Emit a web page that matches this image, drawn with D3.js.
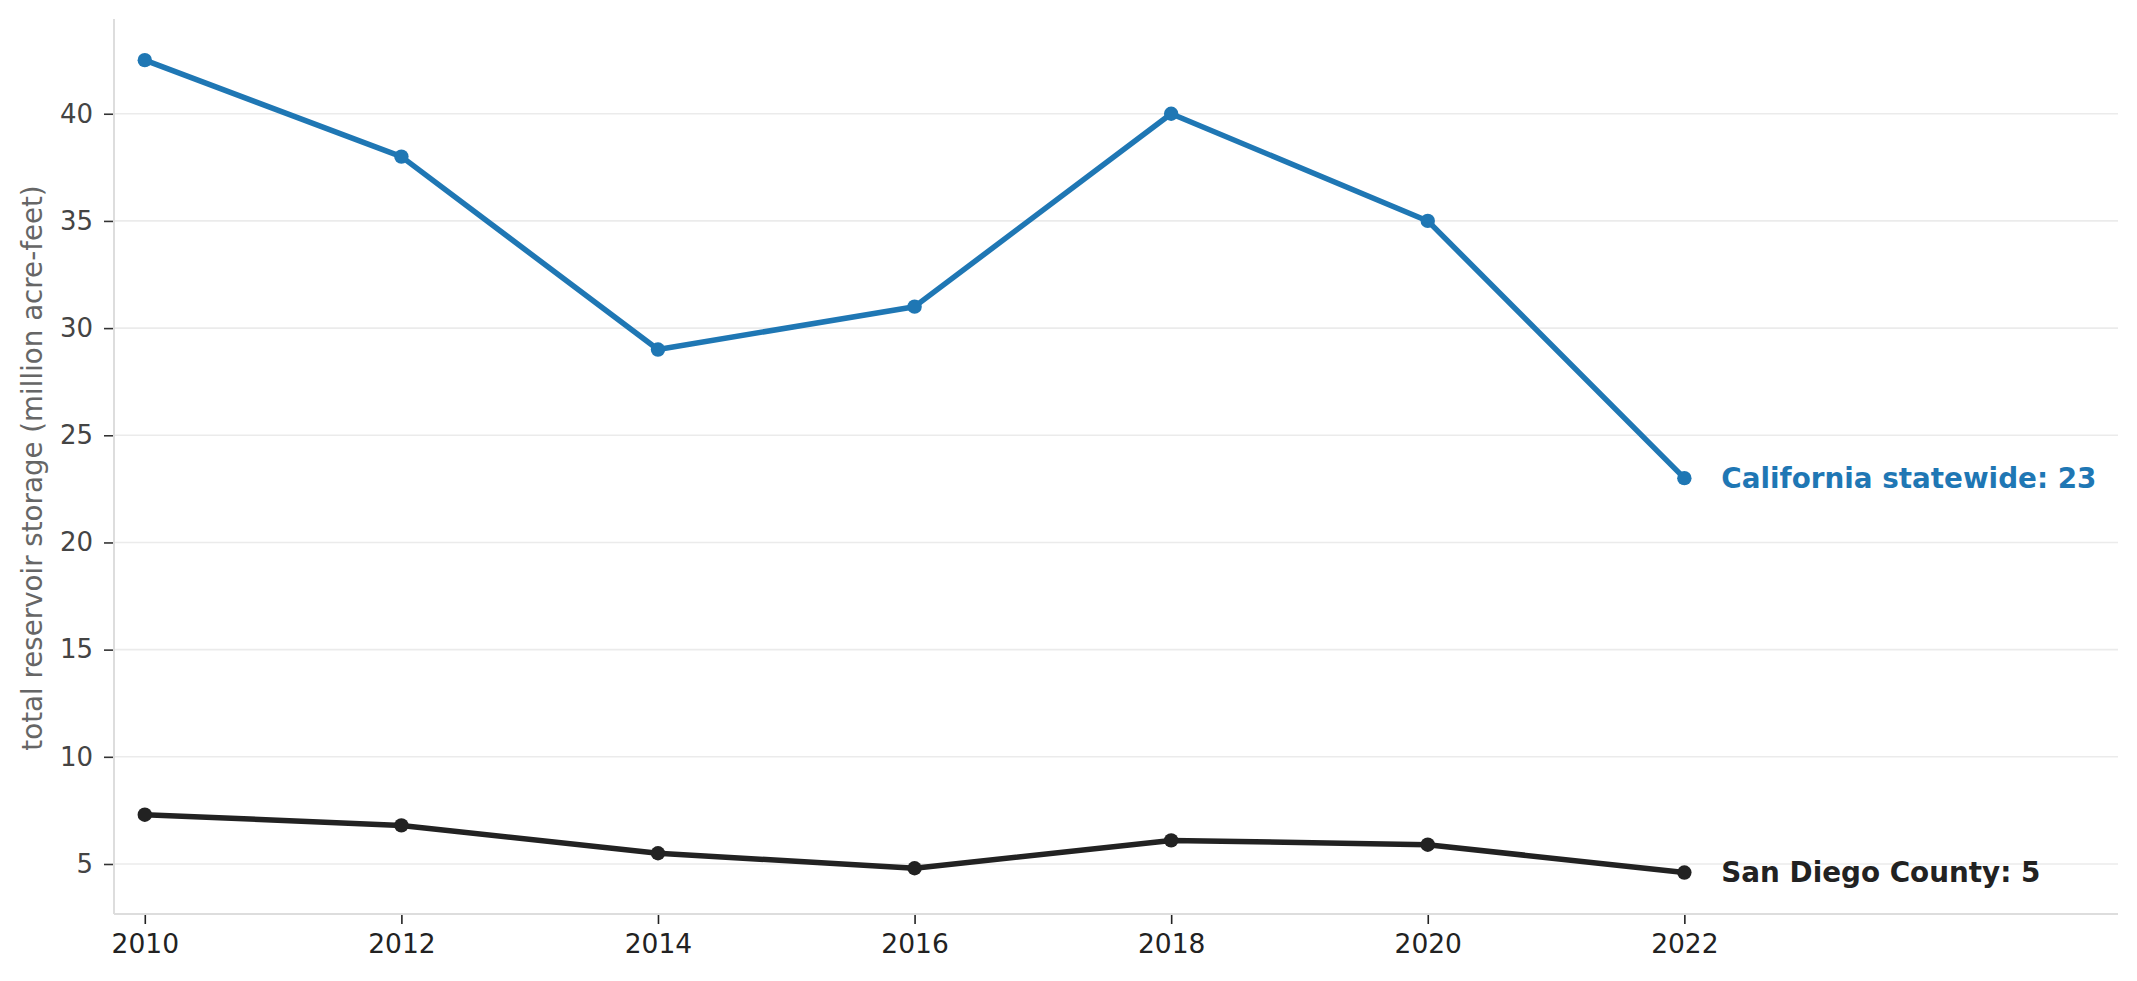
<!DOCTYPE html>
<html>
<head>
  <script src="https://d3js.org/d3.v7.min.js"></script>
  <style>
    html, body { margin: 0; padding: 0; background: white; }
    svg { display: block; font-family: "DejaVu Sans", sans-serif; }
    .tick text { font-family: "DejaVu Sans", sans-serif; }
  </style>
</head>
<body>
<script>
  // data
  const years = [2010, 2012, 2014, 2016, 2018, 2020, 2022];
  const california = [42.5, 38, 29, 31, 40, 35, 23];
  const sanDiego = [7.3, 6.8, 5.5, 4.8, 6.1, 5.9, 4.6];
  const seriesNames = ["California statewide", "San Diego County"];
  const seriesColors = ["#1f77b4", "#222222"];
  const yTicks = [5, 10, 15, 20, 25, 30, 35, 40];
  const xTicks = years;

  const width = 2137, height = 981;
  const margin = {top: 19, left: 114, right: 19, bottom: 67};

  const svg = d3.select("body").append("svg")
    .attr("width", width)
    .attr("height", height);

  const x = d3.scaleLinear()
    .domain([2009.76, 2025.38])
    .range([margin.left, width - margin.right]);

  const y = d3.scaleLinear()
    .domain([2.667, 44.42])
    .range([height - margin.bottom, margin.top]);

  // gridlines
  svg.append("g")
    .selectAll("line")
    .data(yTicks)
    .join("line")
      .attr("x1", margin.left)
      .attr("x2", width - margin.right)
      .attr("y1", d => y(d))
      .attr("y2", d => y(d))
      .attr("stroke", "#ebebeb")
      .attr("stroke-width", 1.6);

  // spines
  svg.append("line")
    .attr("x1", margin.left).attr("x2", margin.left)
    .attr("y1", margin.top).attr("y2", height - margin.bottom)
    .attr("stroke", "#dddddd").attr("stroke-width", 2);
  svg.append("line")
    .attr("x1", margin.left).attr("x2", width - margin.right)
    .attr("y1", height - margin.bottom).attr("y2", height - margin.bottom)
    .attr("stroke", "#dddddd").attr("stroke-width", 2);

  // axes
  const yAxis = svg.append("g")
    .attr("transform", `translate(${margin.left - 1},0)`)
    .call(d3.axisLeft(y).tickValues(yTicks).tickSize(9).tickPadding(11));
  yAxis.select(".domain").remove();
  yAxis.selectAll(".tick line").attr("stroke", "#333").attr("stroke-width", 1.6);
  yAxis.selectAll(".tick text").attr("fill", "#444").style("font-size", "26px");

  const xAxis = svg.append("g")
    .attr("transform", `translate(0,${height - margin.bottom + 1})`)
    .call(d3.axisBottom(x).tickValues(xTicks).tickFormat(d3.format("d")).tickSize(9).tickPadding(10));
  xAxis.select(".domain").remove();
  xAxis.selectAll(".tick line").attr("stroke", "#222").attr("stroke-width", 1.6);
  xAxis.selectAll(".tick text").attr("fill", "#222").style("font-size", "26.5px");

  // y label
  svg.append("text")
    .attr("transform", `translate(41.5,468) rotate(-90)`)
    .attr("text-anchor", "middle")
    .attr("fill", "#666")
    .style("font-size", "27.7px")
    .text("total reservoir storage (million acre-feet)");

  const line = d3.line()
    .x(d => x(d.year))
    .y(d => y(d.value));

  [california, sanDiego].forEach((vals, s) => {
    const pts = years.map((yr, i) => ({year: yr, value: vals[i]}));
    svg.append("path")
      .datum(pts)
      .attr("d", line)
      .attr("fill", "none")
      .attr("stroke", seriesColors[s])
      .attr("stroke-width", 5.5)
      .attr("stroke-linejoin", "round");
    svg.append("g")
      .selectAll("circle")
      .data(pts)
      .join("circle")
        .attr("cx", d => x(d.year))
        .attr("cy", d => y(d.value))
        .attr("r", 7.2)
        .attr("fill", seriesColors[s]);
    const last = pts[pts.length - 1];
    svg.append("text")
      .attr("x", x(last.year) + 37)
      .attr("y", y(last.value))
      .attr("dominant-baseline", "central")
      .attr("fill", seriesColors[s])
      .style("font-size", "27.8px")
      .style("font-weight", "bold")
      .text(`${seriesNames[s]}: ${Math.round(last.value)}`);
  });
</script>
</body>
</html>
